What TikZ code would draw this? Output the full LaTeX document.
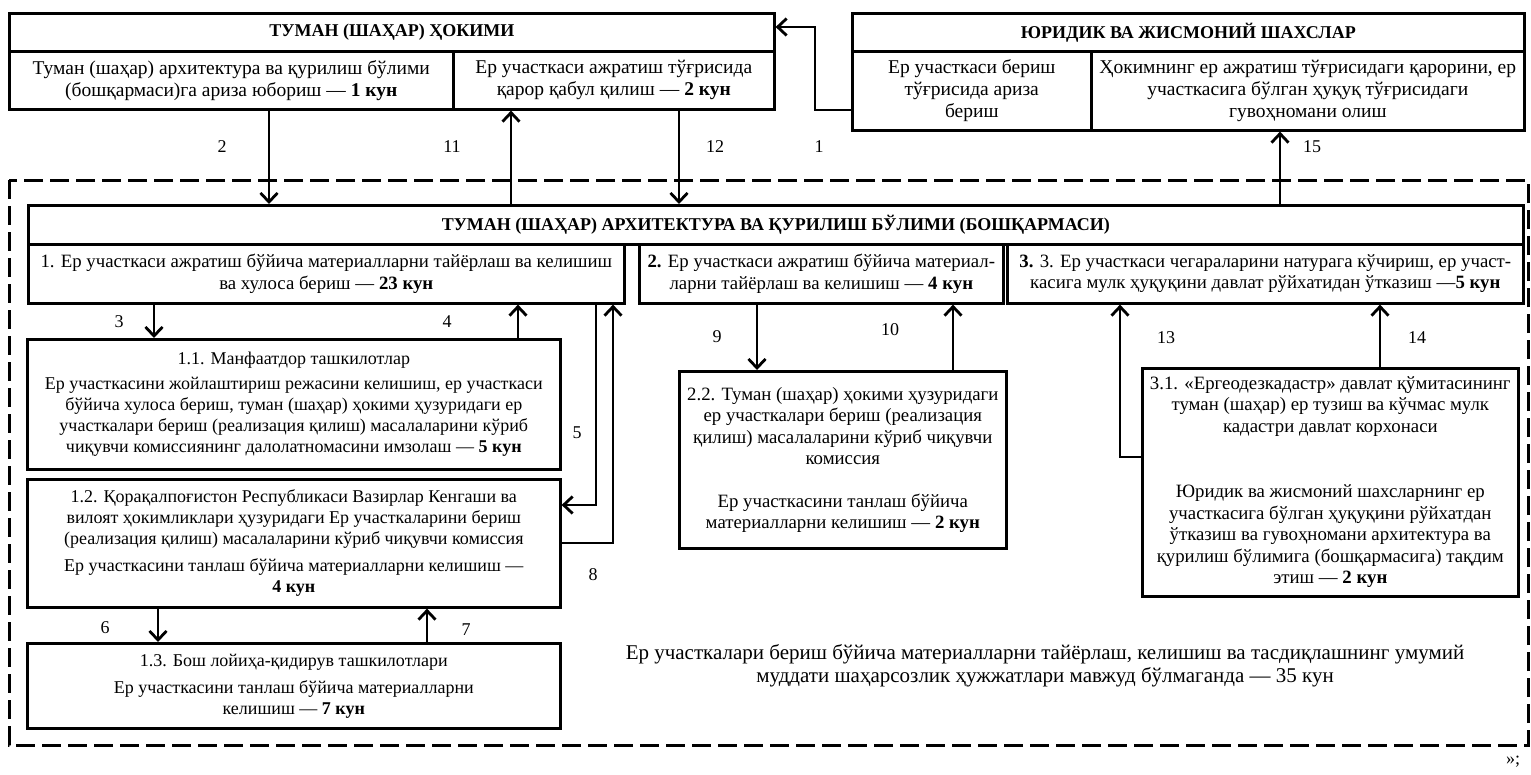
\documentclass[tikz,border=0pt]{standalone}
\usepackage{fontspec}
\setmainfont{Liberation Serif}
\usetikzlibrary{arrows.meta}

\tikzset{
  cell/.style={draw, line width=2.6pt, anchor=north west, align=center,
    inner sep=0pt, font=\fontsize{18}{21}\selectfont},
  wide/.style={font=\fontsize{19.5}{22}\selectfont},
  mid/.style={font=\fontsize{18.8}{21.5}\selectfont},
  link/.style={line width=2.8pt, -{Straight Barb[length=9pt,width=17pt]}},
  num/.style={font=\fontsize{18}{21}\selectfont},
  frame/.style={line width=3pt, dash pattern=on 19pt off 7pt},
}

\begin{document}
\begin{tikzpicture}[x=1pt,y=-1pt]
  \useasboundingbox (0,0) rectangle (1531,774);

  % hokim
  \node[cell, minimum width=765pt, minimum height=38pt] (hokim) at (8,12) {\bfseries ТУМАН (ШАҲАР) ҲОКИМИ};
  \node[cell, wide, minimum width=444pt, minimum height=58pt] (hokimL) at (8,50) {Туман (шаҳар) архитектура ва қурилиш бўлими\\(бошқармаси)га ариза юбориш — \textbf{1 кун}};
  \node[cell, wide, minimum width=321pt, minimum height=58pt] (hokimR) at (452,50) {Ер участкаси ажратиш тўғрисида\\қарор қабул қилиш — \textbf{2 кун}};

  % shaxslar
  \node[cell, minimum width=672pt, minimum height=38pt] (shax) at (851,12) {\bfseries ЮРИДИК ВА ЖИСМОНИЙ ШАХСЛАР};
  \node[cell, wide, minimum width=239pt, minimum height=79pt] (shaxL) at (851,50) {Ер участкаси бериш\\тўғрисида ариза\\бериш};
  \node[cell, wide, minimum width=433pt, minimum height=79pt] (shaxR) at (1090,50) {Ҳокимнинг ер ажратиш тўғрисидаги қарорини, ер\\участкасига бўлган ҳуқуқ тўғрисидаги\\гувоҳномани олиш};

  \draw[frame] (9,180) rectangle (1528,745);

  % bolim
  \node[cell, minimum width=1495pt, minimum height=39pt] (arch) at (27,204) {\bfseries ТУМАН (ШАҲАР) АРХИТЕКТУРА ВА ҚУРИЛИШ БЎЛИМИ (БОШҚАРМАСИ)};
  \node[cell, mid, minimum width=596pt, minimum height=59pt] (st1) at (27,243) {1. Ер участкаси ажратиш бўйича материалларни тайёрлаш ва келишиш\\ва хулоса бериш — \textbf{23 кун}};
  \node[cell, mid, minimum width=364pt, minimum height=59pt] (st2) at (638,243) {\textbf{2.} Ер участкаси ажратиш бўйича материал-\\ларни тайёрлаш ва келишиш — \textbf{4 кун}};
  \node[cell, mid, minimum width=516pt, minimum height=59pt] (st3) at (1006,243) {\textbf{3.} 3. Ер участкаси чегараларини натурага кўчириш, ер участ-\\касига мулк ҳуқуқини давлат рўйхатидан ўтказиш —\textbf{5 кун}};

  \node[cell, minimum width=533pt, minimum height=130pt] (k11) at (26,338) {1.1. Манфаатдор ташкилотлар\\[4pt]Ер участкасини жойлаштириш режасини келишиш, ер участкаси\\бўйича хулоса бериш, туман (шаҳар) ҳокими ҳузуридаги ер\\участкалари бериш (реализация қилиш) масалаларини кўриб\\чиқувчи комиссиянинг далолатномасини имзолаш — \textbf{5 кун}};
  \node[cell, minimum width=533pt, minimum height=128pt] (k12) at (26,478) {1.2. Қорақалпоғистон Республикаси Вазирлар Кенгаши ва\\вилоят ҳокимликлари ҳузуридаги Ер участкаларини бериш\\(реализация қилиш) масалаларини кўриб чиқувчи комиссия\\[6pt]Ер участкасини танлаш бўйича материалларни келишиш —\\\textbf{4 кун}};
  \node[cell, minimum width=533pt, minimum height=85pt] (k13) at (26,642) {1.3. Бош лойиҳа-қидирув ташкилотлари\\[6pt]Ер участкасини танлаш бўйича материалларни\\келишиш — \textbf{7 кун}};
  \node[cell, mid, minimum width=327pt, minimum height=177pt] (k22) at (678,370) {2.2. Туман (шаҳар) ҳокими ҳузуридаги\\ер участкалари бериш (реализация\\қилиш) масалаларини кўриб чиқувчи\\комиссия\\[21pt]Ер участкасини танлаш бўйича\\материалларни келишиш — \textbf{2 кун}};
  \node[cell, mid, minimum width=376pt, minimum height=228pt] (k31) at (1141,367) {3.1. «Ергеодезкадастр» давлат қўмитасининг\\туман (шаҳар) ер тузиш ва кўчмас мулк\\кадастри давлат корхонаси\\[44pt]Юридик ва жисмоний шахсларнинг ер\\участкасига бўлган ҳуқуқини  рўйхатдан\\ўтказиш ва гувоҳномани архитектура ва\\қурилиш бўлимига (бошқармасига) тақдим\\этиш — \textbf{2 кун}};

  \node[align=center, font=\fontsize{21}{23}\selectfont] (muddat) at (1045,666) {Ер участкалари бериш бўйича материалларни тайёрлаш, келишиш ва тасдиқлашнинг умумий\\муддати шаҳарсозлик ҳужжатлари мавжуд бўлмаганда — 35 кун};
  \node[num] (tail) at (1513,762) {»;};

  % connector positions
  \coordinate (l2) at (269,0);
  \coordinate (l11) at (511,0);
  \coordinate (l12) at (679,0);
  \coordinate (l15) at (1280,0);
  \coordinate (l3) at (154,0);
  \coordinate (l4) at (518,0);
  \coordinate (l6) at (158,0);
  \coordinate (l7) at (427,0);
  \coordinate (l9) at (757,0);
  \coordinate (l10) at (953,0);
  \coordinate (l14) at (1380,0);
  \coordinate (b1a) at (815,110);
  \coordinate (b1b) at (815,27);
  \coordinate (b5) at (596,505);
  \coordinate (b8) at (613,543);
  \coordinate (b13) at (1120,457);

  \draw[link] (shaxL.west |- b1a) -- (b1a) -- (b1b) -- (hokim.east |- b1b);
  \draw[link] (hokimL.south -| l2) -- (arch.north -| l2);
  \draw[link] (arch.north -| l11) -- (hokimR.south -| l11);
  \draw[link] (hokimR.south -| l12) -- (arch.north -| l12);
  \draw[link] (arch.north -| l15) -- (shaxR.south -| l15);
  \draw[link] (st1.south -| l3) -- (k11.north -| l3);
  \draw[link] (k11.north -| l4) -- (st1.south -| l4);
  \draw[link] (st1.south -| b5) -- (b5) -- (k12.east |- b5);
  \draw[link] (k12.east |- b8) -- (b8) -- (st1.south -| b8);
  \draw[link] (k12.south -| l6) -- (k13.north -| l6);
  \draw[link] (k13.north -| l7) -- (k12.south -| l7);
  \draw[link] (st2.south -| l9) -- (k22.north -| l9);
  \draw[link] (k22.north -| l10) -- (st2.south -| l10);
  \draw[link] (k31.west |- b13) -- (b13) -- (st3.south -| b13);
  \draw[link] (k31.north -| l14) -- (st3.south -| l14);

  \node[num] (n1) at (819,147) {1};
  \node[num] (n2) at (222,147) {2};
  \node[num] (n11) at (452,147) {11};
  \node[num] (n12) at (715,147) {12};
  \node[num] (n15) at (1312,147) {15};
  \node[num] (n3) at (119,322) {3};
  \node[num] (n4) at (447,322) {4};
  \node[num] (n5) at (577,433) {5};
  \node[num] (n8) at (593,575) {8};
  \node[num] (n6) at (105,628) {6};
  \node[num] (n7) at (466,630) {7};
  \node[num] (n9) at (717,337) {9};
  \node[num] (n10) at (890,330) {10};
  \node[num] (n13) at (1166,338) {13};
  \node[num] (n14) at (1417,338) {14};
\end{tikzpicture}
\end{document}
